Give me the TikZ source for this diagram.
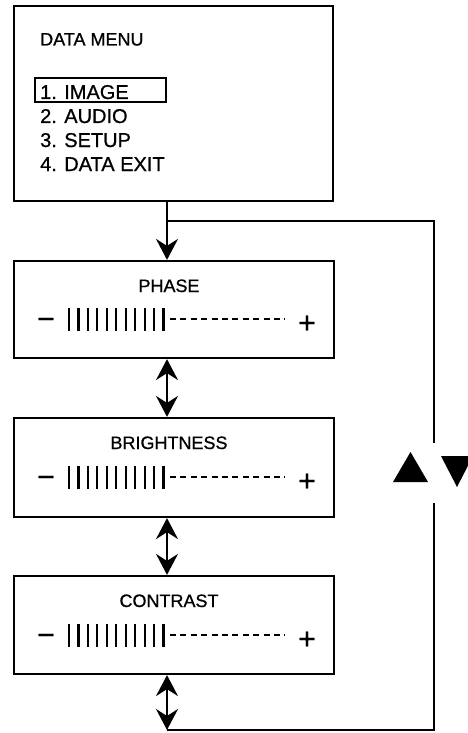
\documentclass[tikz,border=0pt]{standalone}
\usepackage{fontspec}
\setmainfont{Liberation Sans}
\newfontfamily\scanfont{Liberation Sans}[FakeBold=0.8]
\usetikzlibrary{arrows.meta}
\begin{document}
\begin{tikzpicture}[x=1pt,y=-1pt,
  box/.style={draw,line width=2.2pt,inner sep=0pt},
  lbl/.style={font=\scanfont\fontsize{18}{20}\selectfont,inner sep=0pt,anchor=base},
  menutitle/.style={inner sep=0pt,anchor=base west},
  item/.style={font=\scanfont\fontsize{20}{22}\selectfont,inner sep=0pt,anchor=base west},
  sym/.style={font=\scanfont\fontsize{30}{32}\selectfont,inner sep=0pt,anchor=base},
  conn/.style={line width=1.6pt},
  loopline/.style={line width=2pt},
  tipd/.style={-{Stealth[length=21pt,width=22pt,inset=7pt]}},
  tipdd/.style={{Stealth[length=21pt,width=22pt,inset=7pt]}-{Stealth[length=21pt,width=22pt,inset=7pt]}},
  bar/.style={line width=2.2pt},
  dashline/.style={line width=2.2pt,dash pattern=on 6pt off 4.4pt}]
\useasboundingbox[fill=white] (0,0) rectangle (468,733);
% boxes
\node[box,minimum width=319pt,minimum height=195pt] (menu) at (173.5,103.5) {};
\node[box,minimum width=320pt,minimum height=97pt] (phase) at (174,309.5) {};
\node[box,minimum width=320pt,minimum height=99pt] (bright) at (174,467.5) {};
\node[box,minimum width=320pt,minimum height=98pt] (contr) at (174,625) {};
% menu text
\node[menutitle] (title) at (40,45.5) {\scanfont\fontsize{18}{20}\selectfont DATA MENU};
\node[draw,line width=1.8pt,minimum width=131pt,minimum height=24pt,inner sep=0pt] (hl) at (100.5,90) {};
\node[item] (i1) at (40,99) {1. IMAGE};
\node[item] (i2) at (40,123) {2. AUDIO};
\node[item] (i3) at (40,147) {3. SETUP};
\node[item] (i4) at (40,171) {4. DATA EXIT};
% titles
\node[lbl] (tp) at (169,292) {PHASE};
\node[lbl] (tb) at (169,449) {BRIGHTNESS};
\node[lbl] (tc) at (169,607) {CONTRAST};
% sliders
\foreach \y in {319,477,635}{
  \node[sym] (m\y) at (46,\y+10) {−};
  \foreach \i in {0,...,10}
    \draw[bar] ({69+\i*9.45},\y-11.5) -- ++(0,23);
  \draw[dashline] (170,\y) -- (285,\y);
  \node[sym] (p\y) at (307,\y+14) {+};
}
% connectors
\coordinate (cx) at (167,0);
\coordinate (lr) at (434,221);
\coordinate (gapT) at (434,443);
\coordinate (gapB) at (434,503);
\coordinate (bot) at (434,730);
\draw[conn,tipd] (cx |- menu.south) -- (cx |- phase.north);
\draw[conn,tipdd] (cx |- phase.south) -- (cx |- bright.north);
\draw[conn,tipdd] (cx |- bright.south) -- (cx |- contr.north);
\draw[conn,tipdd] (cx |- contr.south) -- (cx |- bot);
\draw[loopline] (cx |- lr) -- (lr) -- (gapT);
\draw[loopline] (gapB) -- (bot) -- (cx |- bot);
% triangles
\fill (393,482) -- (428,482) -- (410.5,452) -- cycle;
\fill (441,456) -- (473,456) -- (457,487) -- cycle;
\end{tikzpicture}
\end{document}
